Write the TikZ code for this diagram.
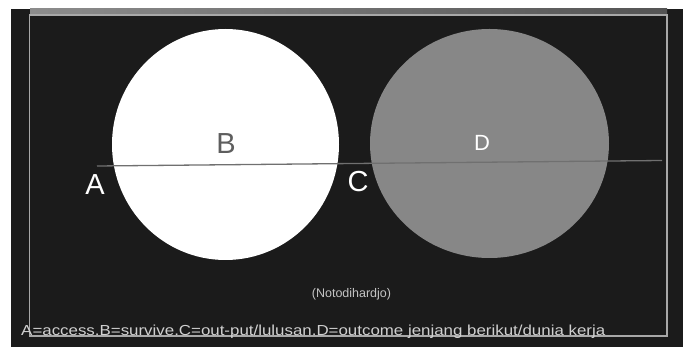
\documentclass[tikz,border=0pt]{standalone}
\usepackage{fontspec}
\setmainfont{Liberation Sans}
\usetikzlibrary{shapes.geometric}
\definecolor{bgdark}{HTML}{1B1B1B}
\definecolor{framegray}{HTML}{A8A8A8}
\definecolor{bandgray}{HTML}{8C8C8C}
\definecolor{discgray}{HTML}{878787}
\definecolor{linegray}{HTML}{707070}
\definecolor{btext}{HTML}{5E5E5E}
\definecolor{captext}{HTML}{D0D0D0}
\definecolor{srctext}{HTML}{C4C4C4}
\tikzset{
  disc/.style={ellipse, inner sep=0pt, outer sep=0pt},
  biglabel/.style={text=white, font=\fontsize{29}{29}\selectfont, inner sep=0pt},
  caption/.style={text=#1, inner sep=0pt, anchor=base west},
}
\begin{document}
\begin{tikzpicture}[x=1pt,y=-1pt]
\useasboundingbox (0,0) rectangle (686,347);
% background
\fill[bgdark] (11,9) rectangle (683,347);
\shade[left color=bandgray, right color=bandgray!60!black] (30,9) rectangle (667,14.5);
\draw[framegray, line width=1.2pt] (29.5,15) rectangle (667,336);
% discs
\node[disc, fill=white, minimum width=227pt, minimum height=231pt] (B) at (225.5,144.5) {};
\node[disc, fill=discgray, minimum width=239pt, minimum height=229pt] (D) at (489.5,143.5) {};
% line
\coordinate (L0) at (97,166);
\coordinate (L1) at (662,160.5);
\draw[linegray, line width=1.3pt] (L0) -- (L1);
% labels
\node[biglabel, text=btext] (tB) at (226,144) {B};
\node[biglabel] (tA) at (95,185) {A};
\node[biglabel] (tC) at (358,182) {C};
\node[text=white, font=\fontsize{22}{22}\selectfont, inner sep=0pt] (tD) at (482,143) {D};
\node[text=srctext, font=\fontsize{12.5}{12.5}\selectfont, inner sep=0pt] (src) at (351.5,294) {(Notodihardjo)};
\node[caption=captext, font=\fontsize{14.5}{14.5}\selectfont, xscale=1.165] (leg) at (21,336) {A=access.B=survive.C=out-put/lulusan.D=outcome jenjang berikut/dunia kerja};
\end{tikzpicture}
\end{document}
